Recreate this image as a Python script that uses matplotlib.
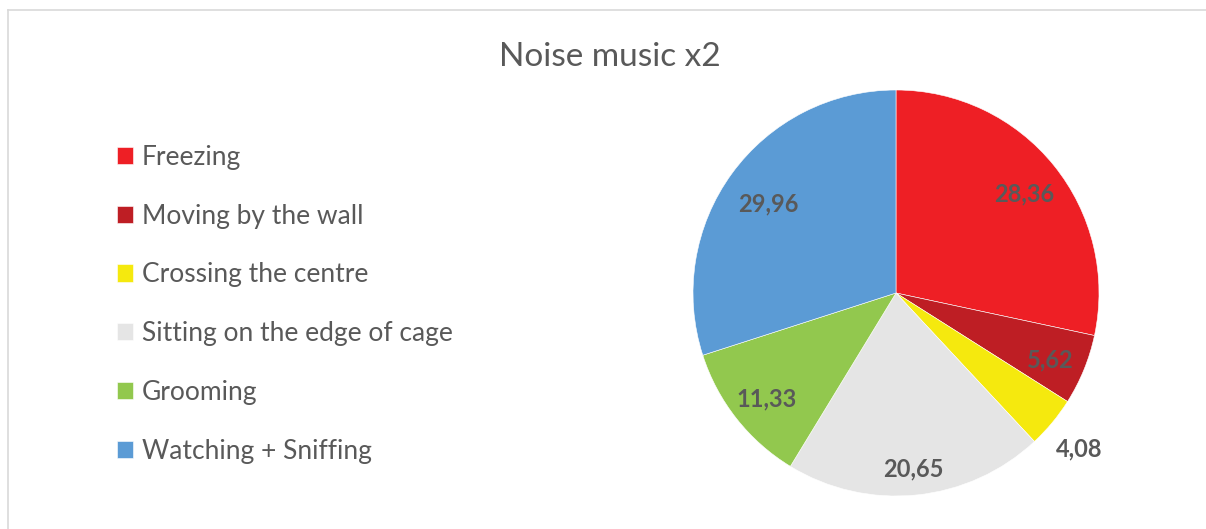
import matplotlib
matplotlib.use("Agg")
import matplotlib.pyplot as plt
import numpy as np
from matplotlib.lines import Line2D

categories = ["Freezing", "Moving by the wall", "Crossing the centre",
              "Sitting on the edge of cage", "Grooming", "Watching + Sniffing"]
values = [28.36, 5.62, 4.08, 20.65, 11.33, 29.96]
value_labels = ["28,36", "5,62", "4,08", "20,65", "11,33", "29,96"]
colors = ["#EE1F25", "#BE1E24", "#F5E90E", "#E5E5E5", "#92C84E", "#5B9BD5"]
title = "Noise music x2"

plt.rcParams['font.family'] = ['Lato', 'DejaVu Sans']
W, H = 1206, 529
fig = plt.figure(figsize=(W/100, H/100), dpi=100)

# border (top and left visible)
fig.add_artist(Line2D([8/W, 8/W], [0, 1-10/H], color="#D9D9D9", lw=1.2))
fig.add_artist(Line2D([8/W, 1], [1-10/H, 1-10/H], color="#D9D9D9", lw=1.2))

cx, cy, r = 896, 293, 203
ax = fig.add_axes([(cx-r)/W, (H-cy-r)/H, 2*r/W, 2*r/H])
wedges, _ = ax.pie(values, colors=colors, startangle=90, counterclock=False,
                   radius=1, wedgeprops=dict(edgecolor="white", linewidth=0.4))
ax.set_xlim(-1, 1); ax.set_ylim(-1, 1); ax.set_aspect("equal")
ax.axis("off")

dists = [0.81, 0.82, 1.17, 0.85, 0.81, 0.78]
for w, lab, d in zip(wedges, value_labels, dists):
    ang = np.deg2rad((w.theta1 + w.theta2) / 2)
    ax.text(d*np.cos(ang), d*np.sin(ang) - 0.02, lab, ha="center", va="center",
            fontsize=17, fontweight="bold", color="#595959", clip_on=False)

fig.text(610/W, 1-57/H, title, ha="center", va="center", fontsize=24, color="#595959")

leg = fig.legend(wedges, categories, loc="upper left",
                 bbox_to_anchor=(93/W, 1-121/H), frameon=False,
                 fontsize=19, labelspacing=1.28, handlelength=0.62, handleheight=0.62,
                 handletextpad=0.32)
for t in leg.get_texts():
    t.set_color("#595959")

fig.savefig("out.png", dpi=100)
